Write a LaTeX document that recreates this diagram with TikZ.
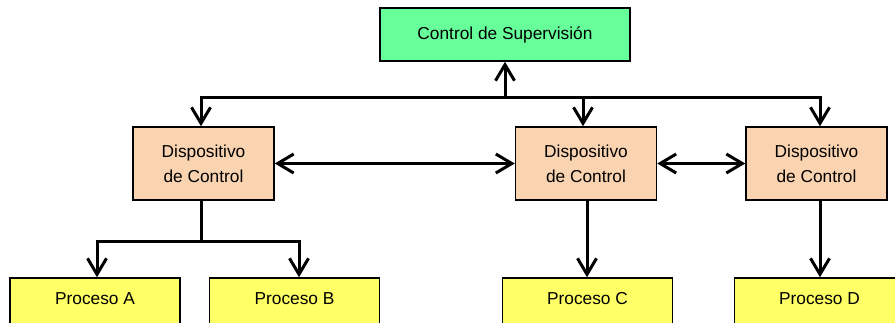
\documentclass[tikz,border=0pt]{standalone}
\usepackage{fontspec}
\setmainfont{Liberation Sans}
\usetikzlibrary{arrows.meta}
\definecolor{supgreen}{HTML}{66FF99}
\definecolor{devpeach}{HTML}{FAD3B0}
\definecolor{procyellow}{HTML}{FFFF66}
\tikzset{barb/.tip={Straight Barb[length=16pt,width=19pt,line width=3pt]}}
\begin{document}
\begin{tikzpicture}[x=1pt,y=-1pt,
  box/.style={draw=black, line width=1.5pt, inner sep=0pt, align=center,
    font=\fontsize{17.3pt}{25pt}\selectfont},
  supbox/.style={box, fill=supgreen, minimum width=250pt, minimum height=53pt},
  devbox/.style={box, fill=devpeach, minimum width=141pt, minimum height=73pt},
  procbox/.style={box, fill=procyellow, minimum width=170pt,
    text height=26pt, text depth=26pt},
  wire/.style={line width=3pt},
  arr/.style={wire, -barb},
  darr/.style={wire, barb-barb}
]
\clip (0,0) rectangle (895,322);

% supervision and control devices
\node[supbox] (sup) at (505,34.5) {Control de Supervisión};
\node[devbox] (d1) at (203.5,163.5) {Dispositivo\\de Control};
\node[devbox] (d2) at (586,163.5) {Dispositivo\\de Control};
\node[devbox] (d3) at (816.5,163.5) {Dispositivo\\de Control};

% processes
\node[procbox] (pa) at (95,304) {Proceso A};
\node[procbox] (pb) at (294.5,304) {Proceso B};
\node[procbox] (pc) at (587.5,304) {Proceso C};
\node[procbox] (pd) at (819.5,304) {Proceso D};

% bus points
\coordinate (b1) at (201,97);
\coordinate (b2) at (583,97);
\coordinate (b3) at (820,97);
\coordinate (b0) at (505,97);
\coordinate (s1) at (201,241);
\coordinate (sa) at (97,241);
\coordinate (sb) at (299,241);
\coordinate (c1) at (587,200);

% supervision bus
\draw[darr] (b1 |- d1.north) -- (b1) -- (b3) -- (b3 |- d3.north);
\draw[arr] (b2) -- (b2 |- d2.north);
\draw[arr] (b0) -- (sup.south);

% links between devices
\draw[darr] (d1.east) -- (d2.west);
\draw[darr] (d2.east) -- (d3.west);

% devices to processes
\draw[wire] (s1 |- d1.south) -- (s1);
\draw[darr] (sa |- pa.north) -- (sa) -- (sb) -- (sb |- pb.north);
\draw[arr] (c1 |- d2.south) -- (c1 |- pc.north);
\draw[arr] (b3 |- d3.south) -- (b3 |- pd.north);
\end{tikzpicture}
\end{document}
